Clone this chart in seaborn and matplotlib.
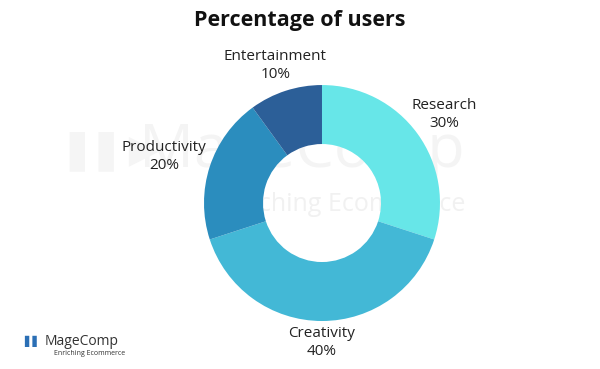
import matplotlib
matplotlib.use("Agg")
import matplotlib.pyplot as plt
import seaborn as sns

# Data
categories = ["Research", "Creativity", "Productivity", "Entertainment"]
shares = [30, 40, 20, 10]
colors = ["#67E6E8", "#43B8D6", "#2B8DBE", "#2C5F98"]

sns.set_theme(style="white")
plt.rcParams['font.family'] = ['Open Sans', 'DejaVu Sans']

fig = plt.figure(figsize=(6, 3.69), dpi=100)
fig.patch.set_facecolor("white")

# faint watermark behind the chart
fig.text(0.775, 0.59, "MageComp", fontsize=44, color="#f4f4f4", va="center", ha="right", zorder=0)
fig.text(0.775, 0.445, "Enriching Ecommerce", fontsize=18, color="#f1f1f1", va="center", ha="right", zorder=0)
fig.text(0.115, 0.59, "\u258c\u258c\u25b6", fontsize=28, color="#f5f5f5", va="center", ha="left", zorder=0)

ax = fig.add_axes([0.34, 0.13, 0.3933, 0.6396])
ax.set_facecolor("none")
ax.set_zorder(2)

labels = [f"{c}\n{s}%" for c, s in zip(categories, shares)]
wedges, texts = ax.pie(shares, labels=labels, colors=colors, startangle=90, counterclock=False,
                       radius=1, labeldistance=1.28,
                       wedgeprops=dict(width=0.5, linewidth=0),
                       textprops=dict(fontsize=11, color="#222222", linespacing=1.3))
for t in texts:
    t.set_ha("center")
    t.set_va("center")
    t.set_clip_on(False)
# small per-label nudges to match the layout
nudges = [(0.0, 0.0), (0.0, 0.1), (-0.12, 0.0), (0.0, -0.05)]
for t, (dx, dy) in zip(texts, nudges):
    x, y = t.get_position()
    t.set_position((x + dx, y + dy))

ax.set_xlim(-1, 1)
ax.set_ylim(-1, 1)
ax.set_aspect("equal")
ax.axis("off")

fig.text(0.5, 0.945, "Percentage of users", ha="center", va="center",
         fontsize=15.5, fontweight="bold", color="#111111", zorder=3)

# logo bottom-left
fig.text(0.04, 0.075, "\u258c\u258c", fontsize=8, color="#2B6FB5", ha="left", va="center")
fig.text(0.075, 0.075, "MageComp", fontsize=10, color="#333333", ha="left", va="center")
fig.text(0.09, 0.043, "Enriching Ecommerce", fontsize=5, color="#333333", ha="left", va="center")

fig.savefig("out.png", dpi=100)
